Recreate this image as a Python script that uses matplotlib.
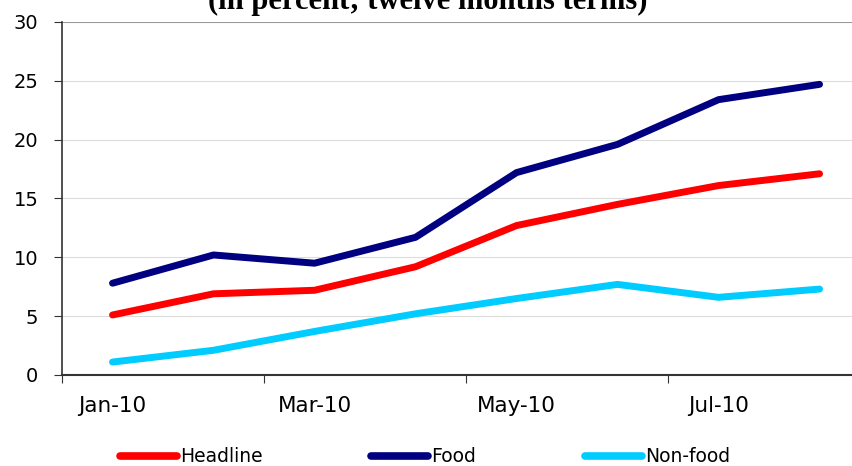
import numpy as np
import matplotlib.pyplot as plt

months = ['Jan-10', 'Feb-10', 'Mar-10', 'Apr-10', 'May-10', 'Jun-10', 'Jul-10', 'Aug-10']
headline = [5.1, 6.9, 7.2, 9.2, 12.7, 14.5, 16.1, 17.1]
food = [7.8, 10.2, 9.5, 11.7, 17.2, 19.6, 23.4, 24.7]
nonfood = [1.1, 2.1, 3.7, 5.2, 6.5, 7.7, 6.6, 7.3]

plt.rcParams['font.family'] = ['DejaVu Sans']

fig = plt.figure(figsize=(8.53, 4.66), dpi=100)
# plot area runs a little past the right edge, like the cropped original
ax = fig.add_axes([0.0727, 0.1953, 1.02 - 0.0727, 0.9528 - 0.1953])

x = np.arange(len(months))
style = dict(lw=5, solid_capstyle='round', solid_joinstyle='round')
ax.plot(x, headline, color='#ff0000', label='Headline', **style)
ax.plot(x, food, color='#000080', label='Food', **style)
ax.plot(x, nonfood, color='#00ccff', label='Non-food', **style)

ax.set_xlim(-0.5, len(months) - 0.5)
ax.set_ylim(0, 30)
ax.set_yticks(range(0, 31, 5))
for v in range(5, 30, 5):
    ax.axhline(v, color='#dcdcdc', lw=0.8, zorder=0)
ax.axhline(30, color='#999999', lw=1.5, zorder=0)

# tick marks at category boundaries, labels every other month
ax.set_xticks(np.arange(-0.5, len(months), 2))
ax.set_xticklabels([])
ax.set_xticks(x[::2], minor=True)
ax.set_xticklabels(months[::2], minor=True)
ax.tick_params(axis='x', which='major', direction='out', length=6, color='#333333')
ax.tick_params(axis='x', which='minor', length=0, pad=15, labelsize=15.5)
ax.tick_params(axis='y', direction='out', length=6, color='#333333', labelsize=14, pad=11)

for s in ['top', 'right']:
    ax.spines[s].set_visible(False)
ax.spines['left'].set_color('#333333')
ax.spines['bottom'].set_color('#333333')
ax.spines['left'].set_linewidth(1.2)
ax.spines['bottom'].set_linewidth(1.5)

# title is cropped at the top edge in the original
fig.text(0.5 * (196 + 659) / 853, 1 - 9 / 466, '(in percent; twelve months terms)', ha='center', va='baseline',
         fontsize=22, fontweight='bold', family='Liberation Serif')

leg = fig.legend(loc='center left', bbox_to_anchor=(120 / 853, 1 - 457 / 466), ncol=3, frameon=False,
                 fontsize=13.5, handlelength=3.04, handletextpad=0.16, columnspacing=5.8,
                 borderpad=0, borderaxespad=0)
for h in leg.get_lines():
    h.set_linewidth(5.5)

fig.savefig('out.png', dpi=100)
